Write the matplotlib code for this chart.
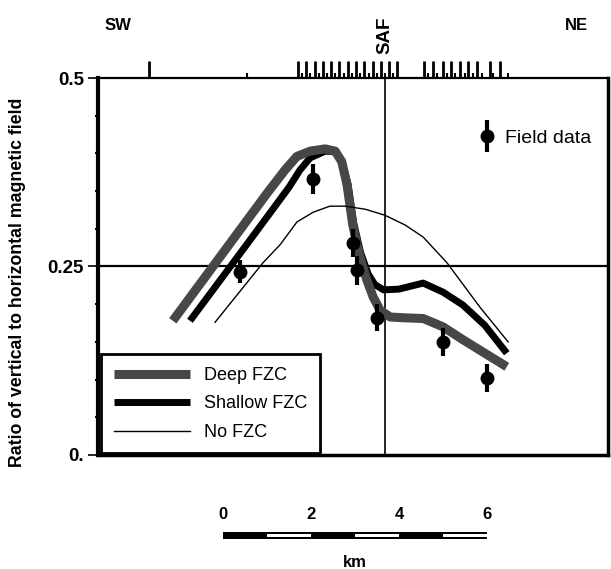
import numpy as np
import matplotlib
matplotlib.use('Agg')
import matplotlib.pyplot as plt
from matplotlib.patches import Rectangle
from matplotlib.legend_handler import HandlerErrorbar

# distance along profile (km) and V/H ratio
deep_x = [-1.14, 0.0, 1.0, 1.41, 1.68, 1.98, 2.32, 2.55, 2.70, 2.82, 2.95, 3.11, 3.27, 3.41, 3.57,
          3.8, 4.1, 4.55, 5.0, 5.45, 5.95, 6.45]
deep_y = [0.178, 0.268, 0.347, 0.378, 0.396, 0.403, 0.406, 0.403, 0.389, 0.358, 0.305, 0.263, 0.232,
          0.210, 0.192, 0.183, 0.182, 0.181, 0.170, 0.153, 0.135, 0.117]

shallow_x = [-0.75, 0.5, 1.5, 1.75, 1.98, 2.32, 2.55, 2.70, 2.84, 2.97, 3.13, 3.3, 3.45, 3.65, 4.0,
             4.55, 5.0, 5.45, 5.95, 6.45]
shallow_y = [0.178, 0.276, 0.355, 0.378, 0.394, 0.403, 0.402, 0.389, 0.360, 0.308, 0.268, 0.240,
             0.226, 0.219, 0.220, 0.228, 0.216, 0.199, 0.172, 0.135]

nofzc_x = [-0.18, 0.91, 1.30, 1.68, 2.05, 2.43, 2.77, 3.23, 3.68, 4.14, 4.55, 5.09, 5.84, 6.48]
nofzc_y = [0.176, 0.255, 0.279, 0.309, 0.322, 0.330, 0.330, 0.326, 0.318, 0.305, 0.289, 0.255, 0.196, 0.150]

field_x = [0.39, 2.05, 2.95, 3.05, 3.50, 5.00, 6.00]
field_y = [0.243, 0.366, 0.281, 0.245, 0.182, 0.150, 0.102]
field_err = [0.015, 0.02, 0.019, 0.019, 0.018, 0.019, 0.019]

saf_x = 3.68
station_major = [-1.68, 1.70, 1.89, 2.09, 2.27, 2.45, 2.64, 2.84, 3.02, 3.20, 3.41, 3.59, 3.77, 3.95,
                 4.57, 4.77, 5.00, 5.18, 5.39, 5.57, 5.77, 6.07, 6.30]
station_minor = [0.55, 1.80, 1.98, 2.18, 2.36, 2.55, 2.75, 2.93, 3.11, 3.32, 3.50, 3.68, 3.86,
                 4.66, 4.86, 5.09, 5.27, 5.50, 5.68, 5.89, 6.14, 6.48]

ytick_vals = [0, 0.25, 0.5]
ytick_labels = ['0.', '0.25', '0.5']
scale_ticks = [0, 2, 4, 6]

plt.rcParams['font.family'] = ['Liberation Sans', 'DejaVu Sans']

fig = plt.figure(figsize=(6.11, 5.69), dpi=100)
ax = fig.add_axes([0.1604, 0.2004, 0.8347, 0.6625])
xlim = (-2.84, 8.75)
ax.set_xlim(*xlim)
ax.set_ylim(0, 0.5)

for side, lw in [('left', 3), ('bottom', 2.5), ('right', 2.5), ('top', 1.6)]:
    ax.spines[side].set_linewidth(lw)

ax.axhline(0.25, color='black', lw=1.6, zorder=2)
ax.axvline(saf_x, color='black', lw=1.2, zorder=2)

l_sh, = ax.plot(shallow_x, shallow_y, color='black', lw=5, solid_capstyle='butt',
                solid_joinstyle='round', zorder=3)
l_dp, = ax.plot(deep_x, deep_y, color='#474747', lw=6.5, solid_capstyle='butt',
                solid_joinstyle='round', zorder=4)
l_no, = ax.plot(nofzc_x, nofzc_y, color='black', lw=1, zorder=5)

eb = ax.errorbar(field_x, field_y, yerr=field_err, fmt='o', color='black', ms=9,
                 elinewidth=3, capsize=0, zorder=6)

ax.set_xticks([])
ax.set_yticks(ytick_vals)
ax.set_yticklabels(ytick_labels, fontweight='bold', fontsize=13.5)
ax.set_yticks(np.arange(0, 0.501, 0.05), minor=True)
ax.tick_params(axis='y', which='major', length=7, width=1.2, pad=3)
ax.tick_params(axis='y', which='minor', length=2.5, width=1.5)

# station marks along the top
trans = ax.get_xaxis_transform()
ax.vlines(station_major, 1.0, 1.045, transform=trans, colors='black', lw=2, clip_on=False)
ax.vlines(station_minor, 1.0, 1.014, transform=trans, colors='black', lw=1.5, clip_on=False)

fig.text(118 / 611, 1 - 25 / 569, 'SW', ha='center', va='center', fontweight='bold', fontsize=12)
fig.text(576 / 611, 1 - 25 / 569, 'NE', ha='center', va='center', fontweight='bold', fontsize=12)
ax.annotate('SAF', xy=(saf_x, 1 - 54 / 569), xycoords=('data', 'figure fraction'),
            rotation=90, ha='center', va='bottom', fontweight='bold', fontsize=13.5)
fig.text(18 / 611, 1 - 282 / 569, 'Ratio of vertical to horizontal magnetic field',
         rotation=90, ha='center', va='center', fontweight='bold', fontsize=12.8)

leg = ax.legend([l_dp, l_sh, l_no], ['Deep FZC', 'Shallow FZC', 'No FZC'],
                loc='lower left', bbox_to_anchor=(0.006, 0.004), borderaxespad=0, fontsize=13,
                handlelength=4.2, handletextpad=0.8, labelspacing=0.63, borderpad=0.7,
                fancybox=False, edgecolor='black', framealpha=1)
leg.get_frame().set_linewidth(2)
leg.set_zorder(7)
ax.add_artist(leg)

leg2 = ax.legend([eb], ['Field data'], loc='center left', bbox_to_anchor=(0.733, 0.841),
                 borderaxespad=0, fontsize=14, frameon=False, handlelength=0.8,
                 handletextpad=0.5, handler_map={type(eb): HandlerErrorbar(yerr_size=0.8)})

# km scale bar
ax2 = fig.add_axes([0.1604, 0, 0.8347, 0.2004])
ax2.set_xlim(*xlim)
ax2.set_ylim(0, 114)
ax2.axis('off')
ax2.add_patch(Rectangle((scale_ticks[0], 30), scale_ticks[-1] - scale_ticks[0], 7,
                        facecolor='black', edgecolor='none'))
for k in range(scale_ticks[0] + 1, scale_ticks[-1], 2):
    ax2.add_patch(Rectangle((k, 31.8), 1, 3.6, facecolor='white', edgecolor='none'))
for t in scale_ticks:
    ax2.text(t, 54, str(t), ha='center', va='center', fontweight='bold', fontsize=12)
ax2.text(3, 6, 'km', ha='center', va='center', fontweight='bold', fontsize=12)

fig.savefig('out.png', dpi=100)
